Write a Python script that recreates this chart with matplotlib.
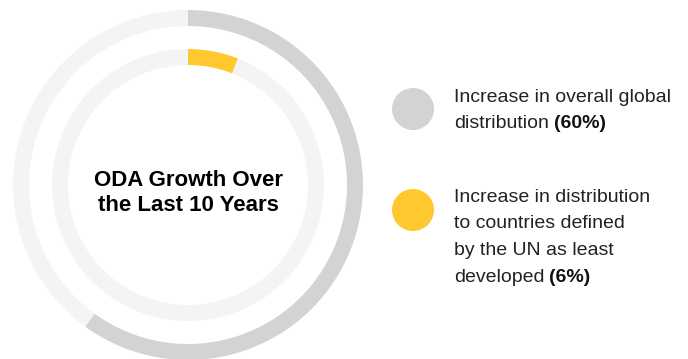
import matplotlib.pyplot as plt
from matplotlib.patches import Circle

# data
title = "ODA Growth Over\nthe Last 10 Years"
series_labels = ["Increase in overall global\ndistribution",
                 "Increase in distribution\nto countries defined\nby the UN as least\ndeveloped"]
series_values = [60, 6]
series_colors = ["#d3d3d3", "#ffc82e"]
track_color = "#f4f4f4"

W, H = 688, 359
fig = plt.figure(figsize=(W / 100, H / 100), dpi=100)
ax = fig.add_axes([0, 0, 1, 1])

cx, cy = 188, H - 185
radii = [175, 136]
ring_w = 16

for val, col, r in zip(series_values, series_colors, radii):
    ax.pie([val, 100 - val], colors=[col, track_color], startangle=90,
           counterclock=False, radius=r, center=(cx, cy),
           wedgeprops=dict(width=ring_w, linewidth=0))

ax.set_xlim(0, W)
ax.set_ylim(0, H)
ax.set_aspect("auto")
ax.axis("off")

ax.text(cx, cy - 8, title, ha="center", va="center", fontsize=16,
        fontweight="bold", family="Liberation Sans", color="#000000",
        linespacing=1.3)

# legend
leg_y = [H - 109, H - 210]
txt_top = [H - 89, H - 189]
fig.canvas.draw()
renderer = fig.canvas.get_renderer()
for lab, val, col, ly, ty in zip(series_labels, series_values, series_colors, leg_y, txt_top):
    ax.add_patch(Circle((413, ly), 21, color=col, lw=0))
    lines = lab.split("\n")
    step = 26.5
    for i, line in enumerate(lines):
        y = ty - i * step
        t = ax.text(454, y, line, ha="left", va="top", fontsize=14,
                    family="Liberation Sans", color="#222222")
        if i == len(lines) - 1:
            bb = t.get_window_extent(renderer)
            x_end = ax.transData.inverted().transform((bb.x1, bb.y0))[0]
            ax.text(x_end + 5, y, f"({val}%)", ha="left", va="top",
                    fontsize=14, fontweight="bold",
                    family="Liberation Sans", color="#111111")

fig.savefig("out.png", dpi=100)
